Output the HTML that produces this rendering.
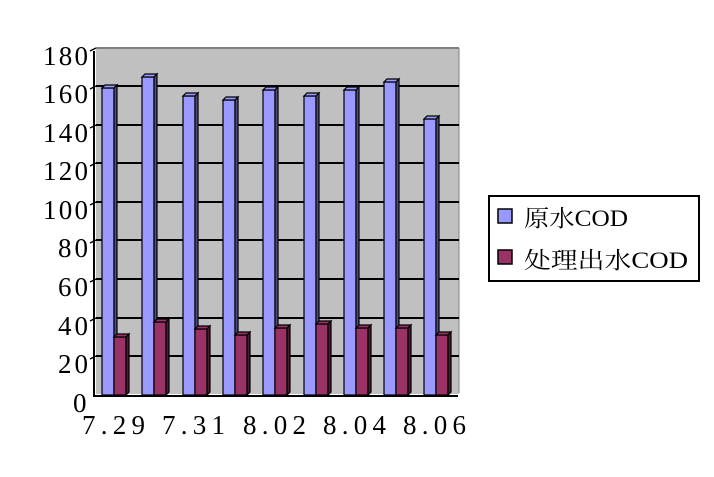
<!DOCTYPE html>
<html><head><meta charset="utf-8"><style>
html,body{margin:0;padding:0;background:#fff;}
svg{display:block;}
text{font-family:"Liberation Serif","Noto Serif CJK SC","Noto Sans CJK SC",serif;fill:#000;}
</style></head><body>
<svg width="714" height="477" viewBox="0 0 714 477">
<rect x="96" y="48" width="363" height="346" fill="#c0c0c0"/>
<line x1="96" y1="48" x2="459" y2="48" stroke="#808080" stroke-width="2"/>
<line x1="459" y1="48" x2="459" y2="393" stroke="#808080" stroke-width="1"/>
<g stroke="#000" stroke-width="2">
<line x1="96" y1="86" x2="459" y2="86"/>
<line x1="96" y1="125" x2="459" y2="125"/>
<line x1="96" y1="163" x2="459" y2="163"/>
<line x1="96" y1="202" x2="459" y2="202"/>
<line x1="96" y1="240" x2="459" y2="240"/>
<line x1="96" y1="279" x2="459" y2="279"/>
<line x1="96" y1="318" x2="459" y2="318"/>
<line x1="96" y1="356" x2="459" y2="356"/>
<line x1="94" y1="51" x2="94" y2="396"/>
<line x1="93" y1="396" x2="458" y2="396"/>
<g stroke-width="1.5">
<line x1="90" y1="51" x2="96" y2="48"/><line x1="90" y1="89" x2="96" y2="86"/><line x1="90" y1="128" x2="96" y2="125"/><line x1="90" y1="166" x2="96" y2="163"/><line x1="90" y1="205" x2="96" y2="202"/><line x1="90" y1="243" x2="96" y2="240"/><line x1="90" y1="282" x2="96" y2="279"/><line x1="90" y1="321" x2="96" y2="318"/><line x1="90" y1="359" x2="96" y2="356"/>
</g>
</g>
<g stroke="#000" stroke-width="1.2">
<g fill="#9999ff">
<rect x="102" y="88" width="12" height="307"/><rect x="142" y="77" width="12" height="318"/><rect x="183" y="96" width="12" height="299"/><rect x="223" y="100" width="12" height="295"/><rect x="263" y="90" width="12" height="305"/><rect x="304" y="96" width="12" height="299"/><rect x="344" y="90" width="12" height="305"/><rect x="384" y="82" width="12" height="313"/><rect x="424" y="119" width="12" height="276"/>
<polygon points="102,88 105,85 117,85 114,88"/><polygon points="142,77 145,74 157,74 154,77"/><polygon points="183,96 186,93 198,93 195,96"/><polygon points="223,100 226,97 238,97 235,100"/><polygon points="263,90 266,87 278,87 275,90"/><polygon points="304,96 307,93 319,93 316,96"/><polygon points="344,90 347,87 359,87 356,90"/><polygon points="384,82 387,79 399,79 396,82"/><polygon points="424,119 427,116 439,116 436,119"/>
</g>
<g fill="#4d4d80">
<polygon points="114,88 117,85 117,392 114,395"/><polygon points="154,77 157,74 157,392 154,395"/><polygon points="195,96 198,93 198,392 195,395"/><polygon points="235,100 238,97 238,392 235,395"/><polygon points="275,90 278,87 278,392 275,395"/><polygon points="316,96 319,93 319,392 316,395"/><polygon points="356,90 359,87 359,392 356,395"/><polygon points="396,82 399,79 399,392 396,395"/><polygon points="436,119 439,116 439,392 436,395"/>
</g>
<g fill="#993366">
<rect x="114" y="337" width="12" height="58"/><rect x="154" y="322" width="12" height="73"/><rect x="195" y="329" width="12" height="66"/><rect x="235" y="335" width="12" height="60"/><rect x="275" y="328" width="12" height="67"/><rect x="316" y="324" width="12" height="71"/><rect x="356" y="328" width="12" height="67"/><rect x="396" y="328" width="12" height="67"/><rect x="436" y="335" width="12" height="60"/>
<polygon points="114,337 117,334 129,334 126,337"/><polygon points="154,322 157,319 169,319 166,322"/><polygon points="195,329 198,326 210,326 207,329"/><polygon points="235,335 238,332 250,332 247,335"/><polygon points="275,328 278,325 290,325 287,328"/><polygon points="316,324 319,321 331,321 328,324"/><polygon points="356,328 359,325 371,325 368,328"/><polygon points="396,328 399,325 411,325 408,328"/><polygon points="436,335 439,332 451,332 448,335"/>
</g>
<g fill="#4d1933">
<polygon points="126,337 129,334 129,392 126,395"/><polygon points="166,322 169,319 169,392 166,395"/><polygon points="207,329 210,326 210,392 207,395"/><polygon points="247,335 250,332 250,392 247,395"/><polygon points="287,328 290,325 290,392 287,395"/><polygon points="328,324 331,321 331,392 328,395"/><polygon points="368,328 371,325 371,392 368,395"/><polygon points="408,328 411,325 411,392 408,395"/><polygon points="448,335 451,332 451,392 448,395"/>
</g>
</g>
<g font-size="27">
<text x="43" y="65" textLength="45" lengthAdjust="spacing">180</text>
<text x="43" y="103" textLength="45" lengthAdjust="spacing">160</text>
<text x="43" y="142" textLength="45" lengthAdjust="spacing">140</text>
<text x="43" y="180" textLength="45" lengthAdjust="spacing">120</text>
<text x="43" y="219" textLength="45" lengthAdjust="spacing">100</text>
<text x="58" y="257" textLength="30" lengthAdjust="spacing">80</text>
<text x="58" y="296" textLength="30" lengthAdjust="spacing">60</text>
<text x="58" y="335" textLength="30" lengthAdjust="spacing">40</text>
<text x="58" y="373" textLength="30" lengthAdjust="spacing">20</text>
<text x="73" y="412">0</text>
<text x="82" y="434" textLength="63" lengthAdjust="spacing">7.29</text>
<text x="162" y="434" textLength="63" lengthAdjust="spacing">7.31</text>
<text x="243" y="434" textLength="63" lengthAdjust="spacing">8.02</text>
<text x="323" y="434" textLength="63" lengthAdjust="spacing">8.04</text>
<text x="403" y="434" textLength="63" lengthAdjust="spacing">8.06</text>
</g>
<rect x="489" y="196" width="210" height="85" fill="#fff" stroke="#000" stroke-width="2"/>
<rect x="498" y="209" width="14" height="14" fill="#9999ff" stroke="#000" stroke-width="1.5"/>
<rect x="498" y="250" width="14" height="14" fill="#993366" stroke="#000" stroke-width="1.5"/>
<text x="524" y="226" font-size="23" textLength="104" lengthAdjust="spacingAndGlyphs">原水COD</text>
<text x="524" y="268" font-size="23" textLength="164" lengthAdjust="spacingAndGlyphs">处理出水COD</text>
</svg>
</body></html>
